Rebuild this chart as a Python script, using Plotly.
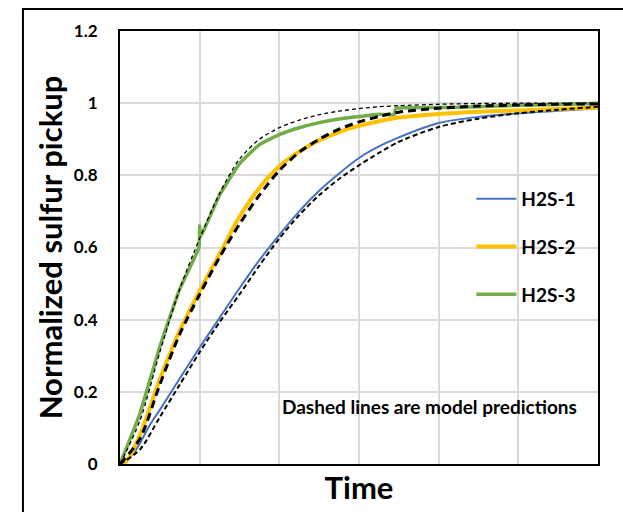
import plotly.graph_objects as go

# Measured sulfur pickup (normalized) vs. time for three H2S runs
t_h2s1 = [0, 0.17, 0.38, 0.5, 0.75, 1.0, 1.25, 1.5, 1.75, 2.0, 2.25, 2.5, 2.75, 3.0, 3.25, 3.5, 3.75, 4.0, 4.5, 5.0, 5.5, 6.0]
y_h2s1 = [0, 0.03, 0.11, 0.15, 0.237, 0.323, 0.405, 0.487, 0.565, 0.635, 0.70, 0.757, 0.805, 0.848, 0.88, 0.905, 0.927, 0.945, 0.962, 0.972, 0.979, 0.985]

t_h2s2 = [0, 0.08, 0.25, 0.5, 0.75, 1.0, 1.25, 1.5, 1.75, 2.0, 2.25, 2.5, 2.75, 3.0, 3.25, 3.5, 4.0, 4.5, 5.0, 5.5, 6.0]
y_h2s2 = [0, 0.008, 0.08, 0.235, 0.37, 0.48, 0.582, 0.685, 0.765, 0.825, 0.866, 0.897, 0.92, 0.937, 0.95, 0.96, 0.97, 0.976, 0.98, 0.984, 0.988]

t_h2s3 = [0, 0.25, 0.5, 0.75, 0.99, 1.0, 1.01, 1.25, 1.5, 1.75, 2.0, 2.25, 2.5, 2.75, 3.0, 3.25, 3.44, 3.46, 4.0, 4.5, 5.0, 5.5, 6.0]
y_h2s3 = [0, 0.14, 0.325, 0.485, 0.60, 0.66, 0.63, 0.745, 0.832, 0.885, 0.913, 0.932, 0.946, 0.956, 0.963, 0.969, 0.968, 0.985, 0.988, 0.99, 0.994, 0.996, 1.0]

# Model predictions
t_model = [0, 0.25, 0.5, 0.75, 1.0, 1.25, 1.5, 1.75, 2.0, 2.25, 2.5, 2.75, 3.0, 3.25, 3.5, 4.0, 4.5, 5.0, 5.5, 6.0]
m_h2s1 = [0, 0.04, 0.13, 0.22, 0.31, 0.393, 0.47, 0.55, 0.625, 0.69, 0.745, 0.79, 0.828, 0.862, 0.893, 0.934, 0.957, 0.972, 0.982, 0.99]
m_h2s2 = [0, 0.07, 0.22, 0.36, 0.47, 0.573, 0.665, 0.745, 0.813, 0.864, 0.90, 0.928, 0.948, 0.963, 0.975, 0.986, 0.992, 0.995, 0.997, 0.998]
m_h2s3 = [0, 0.12, 0.31, 0.485, 0.625, 0.75, 0.845, 0.9, 0.932, 0.953, 0.968, 0.978, 0.985, 0.99, 0.993, 0.997, 0.999, 1.0, 1.0, 1.0]

y_ticks = [0, 0.2, 0.4, 0.6, 0.8, 1.0, 1.2]
y_tick_text = ["0", "0.2", "0.4", "0.6", "0.8", "1", "1.2"]

FONT = "Lato"

fig = go.Figure()

fig.add_trace(go.Scatter(x=t_h2s1, y=y_h2s1, mode="lines", name="H2S-1",
                         line=dict(color="#4472C4", width=2, shape="spline", smoothing=0.8),
                         legendgroup="a"))
fig.add_trace(go.Scatter(x=t_h2s2, y=y_h2s2, mode="lines", name="H2S-2",
                         line=dict(color="#FFC000", width=4, shape="spline", smoothing=0.8),
                         legendgroup="b"))
fig.add_trace(go.Scatter(x=t_h2s3, y=y_h2s3, mode="lines", name="H2S-3",
                         line=dict(color="#70AD47", width=3.5, shape="spline", smoothing=0.4),
                         legendgroup="c"))

fig.add_trace(go.Scatter(x=t_model, y=m_h2s1, mode="lines", showlegend=False,
                         line=dict(color="black", width=2, dash="5px,3px", shape="spline", smoothing=0.8)))
fig.add_trace(go.Scatter(x=t_model, y=m_h2s2, mode="lines", showlegend=False,
                         line=dict(color="black", width=3, dash="8px,5px", shape="spline", smoothing=0.8)))
fig.add_trace(go.Scatter(x=t_model, y=m_h2s3, mode="lines", showlegend=False,
                         line=dict(color="black", width=1.3, dash="4px,3px", shape="spline", smoothing=0.8)))

fig.update_layout(
    width=623, height=512,
    margin=dict(l=120, r=25, t=31, b=48),
    paper_bgcolor="white", plot_bgcolor="white",
    font=dict(family=FONT, color="black"),
    showlegend=True,
    legend=dict(x=0.735, y=0.656, xanchor="left", yanchor="top",
                bgcolor="rgba(0,0,0,0)", font=dict(size=19, family=FONT, weight="bold"),
                tracegroupgap=20, traceorder="grouped", itemwidth=40),
    xaxis=dict(range=[0, 6], dtick=1, showticklabels=False, showgrid=True,
               gridcolor="#d9d9d9", gridwidth=1.5, zeroline=False,
               showline=True, linecolor="black", linewidth=2, mirror=True,
               title=dict(text="<b>Time</b>", font=dict(size=31, family=FONT), standoff=12)),
    yaxis=dict(range=[0, 1.2], tickvals=y_ticks, ticktext=[f"<b>{s}</b>" for s in y_tick_text],
               tickfont=dict(size=17, family=FONT), ticklabelstandoff=17,
               showgrid=True, gridcolor="#d9d9d9", gridwidth=1.5, zeroline=False,
               showline=True, linecolor="black", linewidth=2, mirror=True,
               title=dict(text="<b>Normalized sulfur pickup</b>", font=dict(size=31, family=FONT), standoff=2)),
    annotations=[dict(x=0.96, y=0.133, xref="paper", yref="paper", xanchor="right", yanchor="middle",
                      text="<b>Dashed lines are model predictions</b>", showarrow=False,
                      font=dict(size=19, family=FONT, color="black"))],
    shapes=[dict(type="rect", xref="paper", yref="paper",
                 x0=-0.203, x1=1.08, y0=-0.14, y1=1.051,
                 line=dict(color="black", width=2), fillcolor="rgba(0,0,0,0)", layer="below")],
)

fig.write_html("out.html")
